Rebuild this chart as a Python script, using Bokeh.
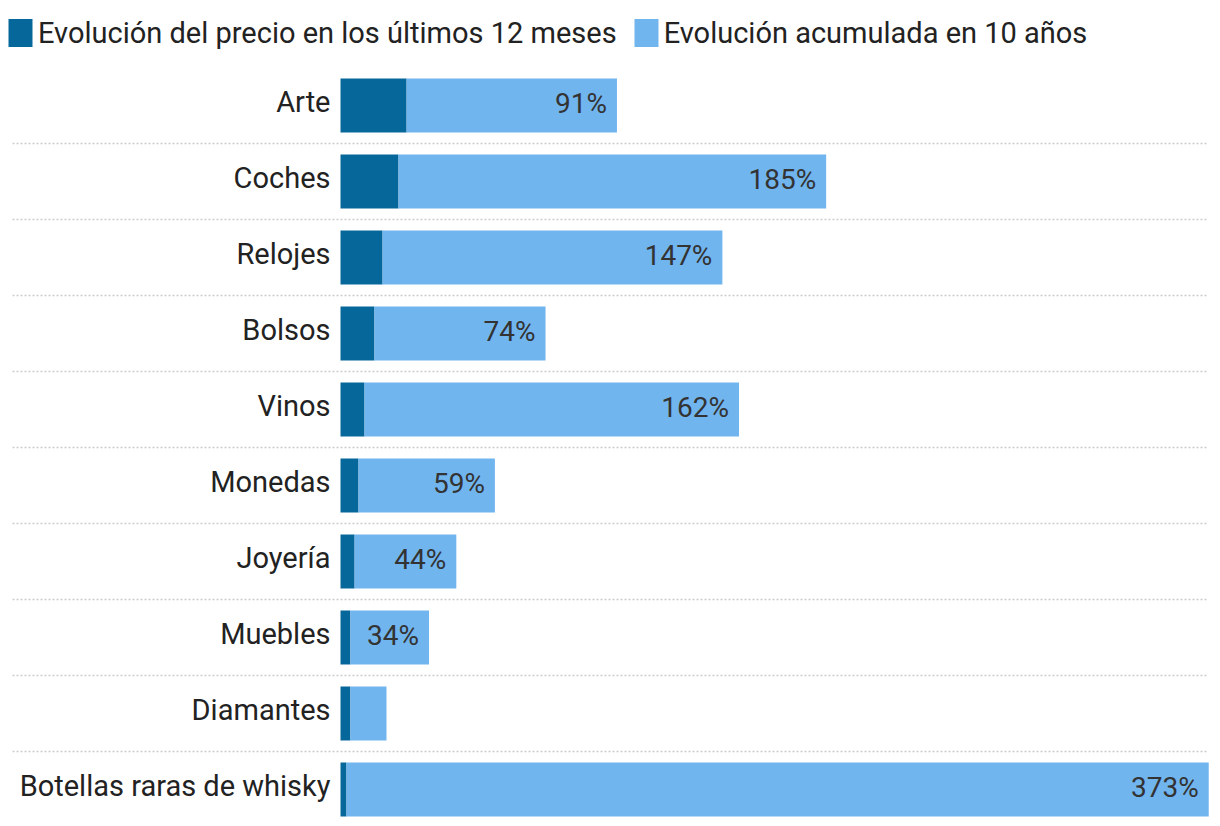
from bokeh.plotting import figure
from bokeh.models import ColumnDataSource, Range1d, Legend, LegendItem
from bokeh.core.properties import value
from bokeh.embed import file_html
from bokeh.resources import INLINE

categories = ["Arte", "Coches", "Relojes", "Bolsos", "Vinos", "Monedas",
              "Joyería", "Muebles", "Diamantes", "Botellas raras de whisky"]
last_12_months = [28.6, 25.1, 18.2, 14.7, 10.4, 7.8, 6.1, 4.3, 4.3, 2.6]
ten_years = [91, 185, 147, 74, 162, 59, 44, 34, 15.6, 373]
value_labels = ["91%", "185%", "147%", "74%", "162%", "59%", "44%", "34%", "", "373%"]
series_names = ["Evolución del precio en los últimos 12 meses", "Evolución acumulada en 10 años"]

DARK = "#06679a"
LIGHT = "#71b5ef"
FONT = "Roboto"

W, H = 1220, 826
k = 2.3116          # px per unit
zero_px = 340       # zero position in frame px
row_px = 76
first_row_px = 105

ypos = list(range(len(categories)))
totals = [a + b for a, b in zip(last_12_months, ten_years)]

src = ColumnDataSource(dict(
    y=ypos, cat=categories, dark=last_12_months, light=ten_years,
    total=totals, zero=[0] * len(categories), lab=value_labels,
))

p = figure(width=W, height=H, output_backend="svg", toolbar_location=None,
           x_range=Range1d(-zero_px / k, (W - zero_px) / k),
           y_range=Range1d((H - first_row_px) / row_px, -first_row_px / row_px),
           min_border=0, outline_line_color=None)
p.axis.visible = False
p.grid.visible = False

# dotted separators between rows
sep_y = [i + 0.5 for i in ypos[:-1]]
p.segment(x0=[(12 - zero_px) / k] * len(sep_y), x1=[(1207 - zero_px) / k] * len(sep_y),
          y0=sep_y, y1=sep_y, line_color="#cccccc", line_width=1.5, line_dash="2 2")

bh = 54 / row_px
r1 = p.hbar(y="y", left="zero", right="dark", height=bh, source=src,
            fill_color=DARK, line_color=None)
r2 = p.hbar(y="y", left="dark", right="total", height=bh, source=src,
            fill_color=LIGHT, line_color=None)

p.text(x="zero", y="y", text="cat", source=src, x_offset=-10, y_offset=-4,
       text_align="right", text_baseline="middle", text_font=value(FONT),
       text_font_size="29px", text_color="#222222")
p.text(x="total", y="y", text="lab", source=src, x_offset=-10, y_offset=-2,
       text_align="right", text_baseline="middle", text_font=value(FONT),
       text_font_size="28px", text_color="#333333")

legend = Legend(items=[LegendItem(label=series_names[0], renderers=[r1]),
                       LegendItem(label=series_names[1], renderers=[r2])],
                orientation="horizontal", location=(5, 776),
                glyph_width=30, glyph_height=35, label_standoff=3, spacing=14,
                padding=0, margin=0, border_line_color=None, background_fill_alpha=0,
                label_text_font=FONT, label_text_font_size="29px",
                label_text_color="#222222")
p.add_layout(legend, "center")

open("out.html", "w").write(file_html(p, INLINE))
